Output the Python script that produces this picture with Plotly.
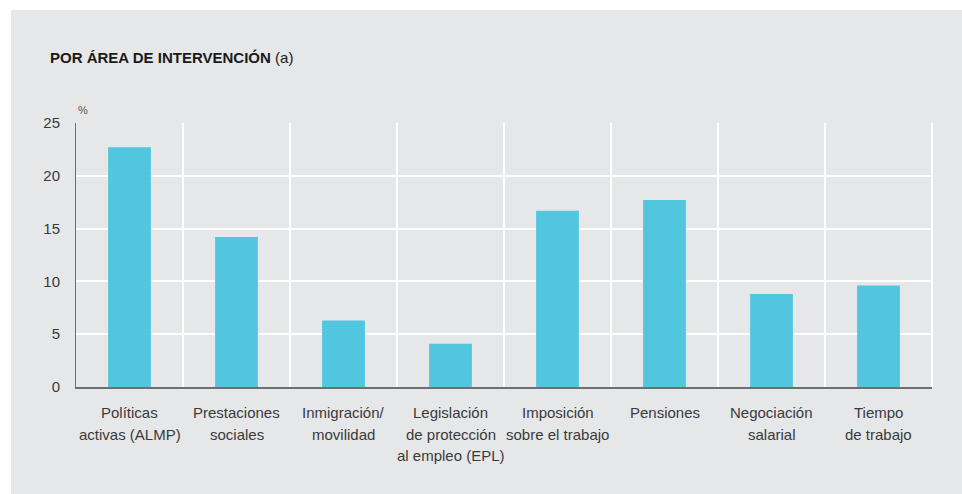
import plotly.graph_objects as go

categories = [
    "Políticas<br>activas (ALMP)",
    "Prestaciones<br>sociales",
    "Inmigración/<br>movilidad",
    "Legislación<br>de protección<br>al empleo (EPL)",
    "Imposición<br>sobre el trabajo",
    "Pensiones",
    "Negociación<br>salarial",
    "Tiempo<br>de trabajo",
]
values = [22.7, 14.2, 6.3, 4.1, 16.7, 17.7, 8.8, 9.6]
y_ticks = [0, 5, 10, 15, 20, 25]

W, H = 962, 494
L, R, T, B = 76, 30, 123, 107
pw, ph = W - L - R, H - T - B

def px_x(x):
    return (x - L) / pw

def px_y(y):
    return (H - B - y) / ph

BG = "#e6e7e9"
BAR = "#52c6df"
FONT = "Liberation Sans, Arial, sans-serif"

fig = go.Figure()
fig.add_trace(go.Bar(x=categories, y=values, marker=dict(color=BAR, line=dict(width=0)), width=0.4))

annotations = [
    dict(text="<b>POR ÁREA DE INTERVENCIÓN</b> (a)", xref="paper", yref="paper",
         x=px_x(48), y=px_y(57), xanchor="left", yanchor="middle", showarrow=False,
         font=dict(size=15, color="#1a1a1a")),
    dict(text="%", xref="paper", yref="paper", x=px_x(76), y=px_y(110),
         xanchor="left", yanchor="middle", showarrow=False,
         font=dict(size=11, color="#555555")),
]
# category labels, one line per annotation for reference-like line spacing
for cat in categories:
    for i, line in enumerate(cat.split("<br>")):
        annotations.append(dict(
            text=line, x=cat, xref="x", yref="paper", y=px_y(412 + 22 * i),
            xanchor="center", yanchor="middle", showarrow=False,
            font=dict(size=15, color="#3a3a3a"),
        ))

fig.update_layout(
    width=W, height=H,
    margin=dict(l=L, r=R, t=T, b=B, autoexpand=False),
    paper_bgcolor=BG, plot_bgcolor=BG,
    showlegend=False,
    font=dict(family=FONT, color="#3a3a3a"),
    xaxis=dict(
        type="category", tickson="boundaries", showgrid=True, gridcolor="white", gridwidth=2,
        ticks="", showline=True, linecolor="#6d6e71", linewidth=2, tickangle=0, automargin=False,
        showticklabels=False, range=[-0.5, 7.5], fixedrange=True,
    ),
    yaxis=dict(
        range=[0, 25], tickvals=y_ticks, showgrid=True, gridcolor="white", gridwidth=2,
        zeroline=False, showline=True, linecolor="#6d6e71", linewidth=1, automargin=False,
        ticks="", tickfont=dict(size=15, color="#3a3a3a"), ticklabelstandoff=12,
    ),
    shapes=[
        dict(type="rect", xref="paper", yref="paper", x0=px_x(0), x1=px_x(11), y0=px_y(494), y1=px_y(0),
             fillcolor="white", line=dict(width=0), layer="above"),
        dict(type="rect", xref="paper", yref="paper", x0=px_x(0), x1=px_x(962), y0=px_y(10), y1=px_y(0),
             fillcolor="white", line=dict(width=0), layer="above"),
        dict(type="line", xref="paper", yref="paper", x0=1, x1=1, y0=0, y1=1,
             line=dict(color="white", width=2), layer="below"),
    ],
    annotations=annotations,
)

fig.write_html("out.html", config={"displayModeBar": False},
               post_script="document.body.style.margin='0';document.body.style.overflow='hidden';")
